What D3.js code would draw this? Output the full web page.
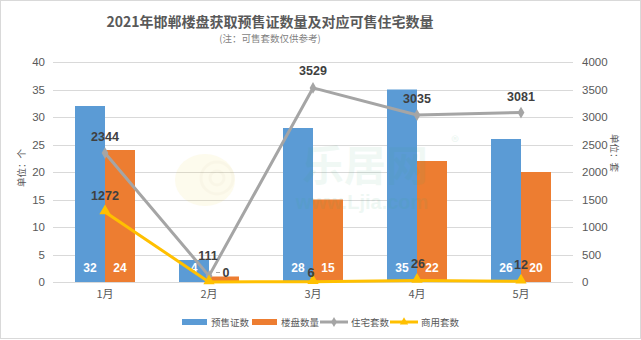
<!DOCTYPE html>
<html>
<head>
<meta charset="utf-8">
<script src="https://cdn.jsdelivr.net/npm/d3@7/dist/d3.min.js"></script>
<style>
  html, body { margin: 0; padding: 0; background: #fff; }
  svg { display: block; font-family: "Noto Sans CJK SC", "Noto Sans", sans-serif; }
</style>
</head>
<body>
<svg id="chart" width="641" height="340"></svg>
<script>
// Monthly data, 2021
const months = ["1月", "2月", "3月", "4月", "5月"];
const permits = [32, 4, 28, 35, 26];          // 预售证数
const projects = [24, 1, 15, 22, 20];         // 楼盘数量
const residential = [2344, 111, 3529, 3035, 3081]; // 住宅套数
const commercial = [1272, 0, 6, 26, 12];      // 商用套数
const leftTicks = [0, 5, 10, 15, 20, 25, 30, 35, 40];
const rightTicks = [0, 500, 1000, 1500, 2000, 2500, 3000, 3500, 4000];

const svg = d3.select("#chart");
const W = 641, H = 340;
const m = { left: 53, right: 68, top: 62, bottom: 58 };
const pw = W - m.left - m.right, ph = H - m.top - m.bottom;

const colors = { blue: "#5b9bd5", orange: "#ed7d31", gray: "#a5a5a5", yellow: "#ffc000" };

// frame
svg.append("rect").attr("x", 0.5).attr("y", 0.5).attr("width", W - 1).attr("height", H - 2)
  .attr("fill", "#fff").attr("stroke", "#d9d9d9");

const g = svg.append("g").attr("transform", `translate(${m.left},${m.top})`);

const x = d3.scaleBand().domain(months).range([0, pw]);
const yL = d3.scaleLinear().domain([0, 40]).range([ph, 0]);
const yR = d3.scaleLinear().domain([0, 4000]).range([ph, 0]);

// grid
g.append("g").selectAll("line").data(leftTicks).join("line")
  .attr("x1", 0).attr("x2", pw)
  .attr("y1", d => Math.round(yL(d)) + 0.5).attr("y2", d => Math.round(yL(d)) + 0.5)
  .attr("stroke", "#d9d9d9").attr("stroke-width", 1);

// axes
const tickFont = "'Liberation Sans', Arial, sans-serif";
const axL = g.append("g").call(d3.axisLeft(yL).tickValues(leftTicks).tickSize(0).tickPadding(8));
const axR = g.append("g").attr("transform", `translate(${pw},0)`)
  .call(d3.axisRight(yR).tickValues(rightTicks).tickFormat(d3.format("d")).tickSize(0).tickPadding(9));
const axB = g.append("g").attr("transform", `translate(0,${ph})`)
  .call(d3.axisBottom(x).tickSize(0).tickPadding(8));
[axL, axR].forEach(a => {
  a.select(".domain").remove();
  a.selectAll("text").attr("font-size", 11.5).attr("fill", "#595959").attr("font-family", tickFont);
});
axB.select(".domain").remove();
axB.selectAll("text").attr("font-size", 11).attr("fill", "#595959")
  .attr("font-family", "'Noto Sans CJK SC', sans-serif");

// bars; value labels sit inside the bar base, only where the bar is tall enough to hold them
const barW = 30;
const barGroups = [
  { vals: permits, color: colors.blue, off: -barW },
  { vals: projects, color: colors.orange, off: 0 }
];
barGroups.forEach(s => {
  const cx = i => x(months[i]) + x.bandwidth() / 2 + s.off;
  g.append("g").selectAll("rect").data(s.vals).join("rect")
    .attr("x", (d, i) => cx(i)).attr("width", barW)
    .attr("y", d => yL(d)).attr("height", d => ph - yL(d))
    .attr("fill", s.color);
  const idx = s.vals.map((d, i) => i).filter(i => ph - yL(s.vals[i]) >= 15);
  g.append("g").selectAll("text").data(idx).join("text")
    .attr("x", i => cx(i) + barW / 2).attr("y", ph - 10)
    .attr("text-anchor", "middle").attr("font-size", 12).attr("font-weight", "bold")
    .attr("fill", "#fff").attr("font-family", "Arial, 'Liberation Sans', sans-serif")
    .text(i => s.vals[i]);
});

// lines
const px = i => x(months[i]) + x.bandwidth() / 2;
const line = d3.line().x((d, i) => px(i)).y(d => yR(d));

g.append("path").datum(residential).attr("d", line)
  .attr("fill", "none").attr("stroke", colors.gray).attr("stroke-width", 3).attr("stroke-linejoin", "round");
g.append("g").selectAll("path").data(residential).join("path")
  .attr("transform", (d, i) => `translate(${px(i)},${yR(d)})`)
  .attr("d", d3.symbol(d3.symbolDiamond, 40)).attr("fill", colors.gray);

g.append("path").datum(commercial).attr("d", line)
  .attr("fill", "none").attr("stroke", colors.yellow).attr("stroke-width", 3).attr("stroke-linejoin", "round");
g.append("g").selectAll("path").data(commercial).join("path")
  .attr("transform", (d, i) => `translate(${px(i)},${yR(d) - 1})`)
  .attr("d", d3.symbol(d3.symbolTriangle, 55)).attr("fill", colors.yellow);

// line value labels
const labelStyle = sel => sel.attr("text-anchor", "middle").attr("font-size", 12.5)
  .attr("font-weight", "bold").attr("fill", "#404040")
  .attr("font-family", "Arial, 'Liberation Sans', sans-serif");
const resDx = [0, -1, 0, 0, 0], resDy = [-12, -16, -13, -12, -12];
g.append("g").selectAll("text").data(residential).join("text")
  .attr("x", (d, i) => px(i) + resDx[i]).attr("y", (d, i) => yR(d) + resDy[i])
  .text(d => d).call(labelStyle);
const comDx = [0, 17, -2, 1, 0], comDy = [-12, -5, -5, -13, -12];
g.append("g").selectAll("text").data(commercial).join("text")
  .attr("x", (d, i) => px(i) + comDx[i]).attr("y", (d, i) => yR(d) + comDy[i])
  .text(d => d).call(labelStyle);
// leader for the zero label
g.append("line").attr("x1", px(1) + 7).attr("x2", px(1) + 11)
  .attr("y1", yR(0) - 9.5).attr("y2", yR(0) - 9.5).attr("stroke", "#a5a5a5");

// site watermark, faint, over the plot
const wm = svg.append("g").attr("pointer-events", "none");
const snail = wm.append("g").attr("transform", "translate(205,170)").attr("opacity", 0.09);
snail.append("ellipse").attr("cx", 0).attr("cy", 10).attr("rx", 30).attr("ry", 26).attr("fill", "#f2d640");
snail.append("circle").attr("cx", 12).attr("cy", 8).attr("r", 16).attr("fill", "none")
  .attr("stroke", "#c9a800").attr("stroke-width", 3);
snail.append("circle").attr("cx", 12).attr("cy", 8).attr("r", 7).attr("fill", "none")
  .attr("stroke", "#c9a800").attr("stroke-width", 3);
wm.append("text").attr("x", 365).attr("y", 181).attr("text-anchor", "middle")
  .attr("font-size", 42).attr("font-weight", "bold").attr("fill", "#36a873").attr("opacity", 0.07)
  .text("乐居网");
wm.append("text").attr("x", 455).attr("y", 148).attr("text-anchor", "middle")
  .attr("font-size", 16).attr("fill", "#36a873").attr("opacity", 0.1).text("®");
wm.append("text").attr("x", 362).attr("y", 209).attr("text-anchor", "middle")
  .attr("font-size", 20).attr("font-weight", "bold").attr("font-family", "Arial, 'Liberation Sans', sans-serif")
  .attr("fill", "#36a873").attr("opacity", 0.08).text("www.Ljia.com");

// title
svg.append("text").attr("x", 270).attr("y", 27).attr("text-anchor", "middle")
  .attr("font-size", 14).attr("font-weight", "bold").attr("fill", "#595959")
  .text("2021年邯郸楼盘获取预售证数量及对应可售住宅数量");
svg.append("text").attr("x", 270).attr("y", 42).attr("text-anchor", "middle")
  .attr("font-size", 9.5).attr("fill", "#7f7f7f")
  .text("(注：可售套数仅供参考)");

// axis titles
svg.append("text").attr("transform", `translate(25,168) rotate(-90)`)
  .attr("text-anchor", "middle").attr("font-size", 9.5).attr("fill", "#595959").text("单位：个");
svg.append("text").attr("transform", `translate(611,153) rotate(90)`)
  .attr("text-anchor", "middle").attr("font-size", 9.5).attr("fill", "#595959").text("单位：套");

// legend
const legend = svg.append("g").attr("transform", "translate(0,322)");
const items = [
  { name: "预售证数", type: "bar", color: colors.blue, x: 182 },
  { name: "楼盘数量", type: "bar", color: colors.orange, x: 252 },
  { name: "住宅套数", type: "diamond", color: colors.gray, x: 320 },
  { name: "商用套数", type: "triangle", color: colors.yellow, x: 390 }
];
items.forEach(it => {
  const gi = legend.append("g").attr("transform", `translate(${it.x},0)`);
  if (it.type === "bar") {
    gi.append("rect").attr("x", 0).attr("y", -3).attr("width", 25).attr("height", 6).attr("fill", it.color);
  } else {
    gi.append("line").attr("x1", 0).attr("x2", 28).attr("y1", 0).attr("y2", 0)
      .attr("stroke", it.color).attr("stroke-width", 3);
    gi.append("path").attr("transform", "translate(14,0)")
      .attr("d", d3.symbol(it.type === "diamond" ? d3.symbolDiamond : d3.symbolTriangle, 30))
      .attr("fill", it.color);
  }
  gi.append("text").attr("x", it.type === "bar" ? 29 : 31).attr("y", 3.5).attr("font-size", 9.5)
    .attr("fill", "#595959").text(it.name);
});
</script>
</body>
</html>
